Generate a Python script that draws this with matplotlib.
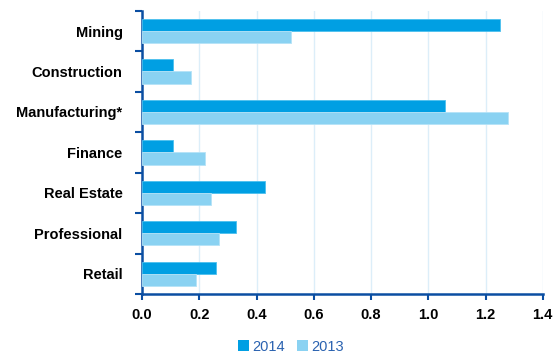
import matplotlib
matplotlib.use("Agg")
import matplotlib.pyplot as plt
import numpy as np
from matplotlib.patches import Patch

categories = ["Mining", "Construction", "Manufacturing*", "Finance",
              "Real Estate", "Professional", "Retail"]
values_2014 = [1.25, 0.11, 1.06, 0.11, 0.43, 0.33, 0.26]
values_2013 = [0.52, 0.17, 1.28, 0.22, 0.24, 0.27, 0.19]
x_ticks = [0.0, 0.2, 0.4, 0.6, 0.8, 1.0, 1.2, 1.4]

plt.rcParams['font.family'] = ['Liberation Sans', 'DejaVu Sans']

c2014 = "#009FE3"
c2013 = "#8AD2F2"
axis_col = "#0B4EA2"

fig = plt.figure(figsize=(5.59, 3.54), dpi=100)
ax = fig.add_axes([0.254, 0.1695, 0.717, 0.80])

n = len(categories)
y = np.arange(n)
h = 0.3
ax.barh(y - h / 2, values_2014, height=h, color=c2014, edgecolor="#4CC0EE",
        linewidth=0.6, zorder=3, label="2014")
ax.barh(y + h / 2, values_2013, height=h, color=c2013, edgecolor="#B5E3F7",
        linewidth=0.6, zorder=3, label="2013")

ax.set_ylim(n - 0.5, -0.5)
ax.set_xlim(0, 1.4)

ax.set_xticks(x_ticks)
ax.set_xticklabels([f"{t:.1f}" for t in x_ticks], fontsize=10.5, fontweight="bold")
ax.set_yticks(y)
ax.set_yticklabels(categories, fontsize=10.5, fontweight="bold")
ax.tick_params(axis="y", which="major", length=0, pad=14)
ax.set_yticks(np.arange(n + 1) - 0.5, minor=True)
ax.tick_params(axis="y", which="minor", length=5, width=1.5, color=axis_col, direction="out")
ax.tick_params(axis="x", which="major", length=4, width=1.5, color=axis_col, direction="out", pad=6)

ax.grid(axis="x", color="#DCEEF9", linewidth=1, zorder=0)
ax.set_axisbelow(True)

for s in ["top", "right"]:
    ax.spines[s].set_visible(False)
for s in ["left", "bottom"]:
    ax.spines[s].set_color(axis_col)
    ax.spines[s].set_linewidth(1.8)

handles = [Patch(facecolor=c2014, label="2014"), Patch(facecolor=c2013, label="2013")]
leg = fig.legend(handles=handles, loc="center", bbox_to_anchor=(0.52, 0.02),
                 ncol=2, frameon=False, fontsize=10.5, handlelength=0.8,
                 handleheight=0.8, handletextpad=0.2, columnspacing=0.8)
for t in leg.get_texts():
    t.set_color("#2A62B0")

fig.savefig("out.png", dpi=100)
